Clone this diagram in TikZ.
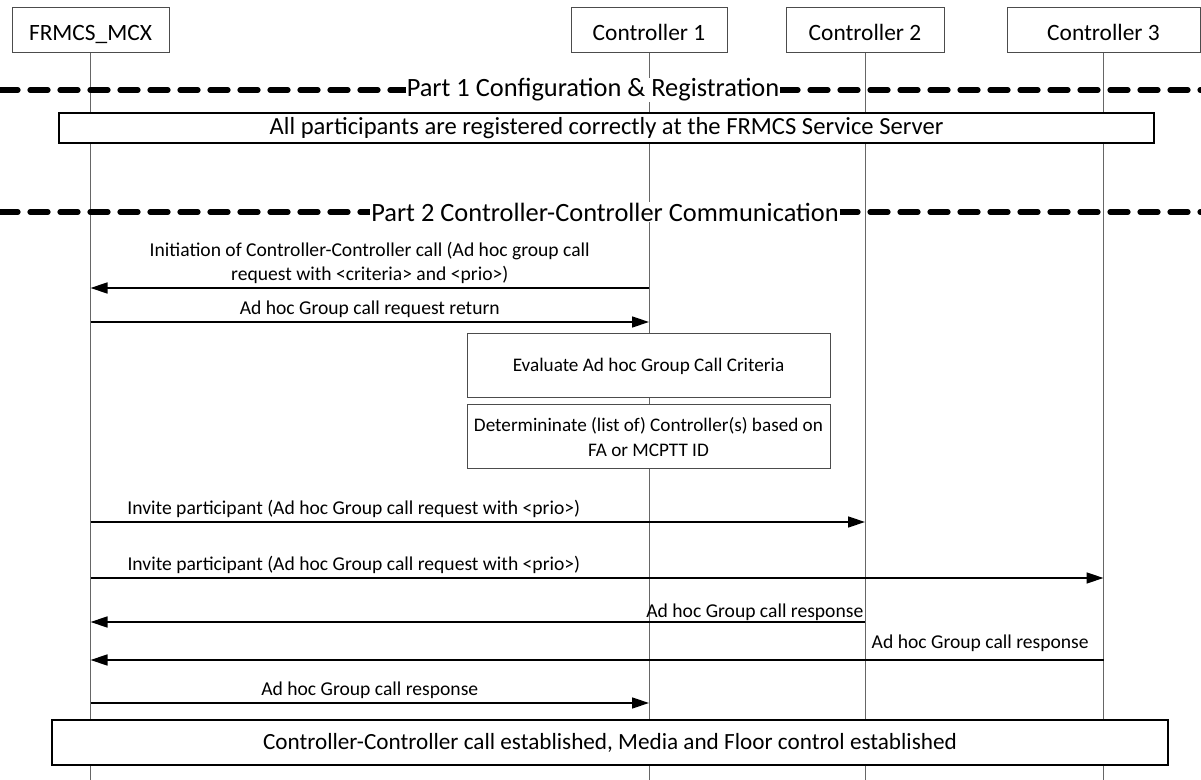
\documentclass[tikz,border=0pt]{standalone}
\usepackage{fontspec}
\setmainfont{Carlito}
\usetikzlibrary{arrows.meta,positioning}

\begin{document}
\begin{tikzpicture}[
  x=0.5pt, y=-0.5pt,
  actor/.style={draw=black!70, line width=0.5pt, font=\fontsize{11.7}{13}\selectfont,
                minimum height=22.5pt, inner sep=0pt, text height=2ex, text depth=0pt},
  lifeline/.style={draw=black!60, line width=0.5pt},
  phase/.style={line width=2.6pt, dash pattern=on 9pt off 6pt, line cap=round},
  phasetext/.style={fill=white, inner sep=0.5pt, font=\fontsize{13.2}{15}\selectfont},
  note/.style={draw, line width=1.1pt, fill=white, inner sep=0pt},
  step box/.style={draw=black!70, line width=0.5pt, fill=white, align=center,
               font=\fontsize{9.6}{12.5}\selectfont, minimum width=181.5pt,
               minimum height=32pt, inner sep=2pt},
  msg/.style={-{Triangle[length=8.5pt, width=5.5pt]}, line width=0.7pt},
  lbl/.style={font=\fontsize{9.8}{12}\selectfont, align=center, inner sep=2pt}]
  \useasboundingbox (0,0) rectangle (1201,780);
  \coordinate (bot) at (0,780);
  % participants
  \node[actor, minimum width=78.5pt] (mcx) at (90.5,30.5) {FRMCS\_MCX};
  \node[actor, minimum width=78pt] (c1) at (649,30.5) {Controller 1};
  \node[actor, minimum width=79pt] (c2) at (865,30.5) {Controller 2};
  \node[actor, minimum width=96.5pt] (c3) at (1103.5,30.5) {Controller 3};
  \foreach \p in {mcx,c1,c2,c3}
    \draw[lifeline] (\p.south) -- (\p |- bot);
  % part 1
  \draw[phase] (0,90) -- (1201,90);
  \node[phasetext] (part1) at (593,90) {Part 1 Configuration \& Registration};
  \node[note, minimum width=547.5pt, minimum height=15pt, font=\fontsize{12.3}{14}\selectfont]
    (reg) at (606.5,128)
    {All participants are registered correctly at the FRMCS Service Server};
  % part 2
  \draw[phase] (0,212) -- (1201,212);
  \node[phasetext] (part2) at (605,212) {Part 2 Controller-Controller Communication};
  % messages
  \draw[msg] (c1 |- 0,288) -- (mcx |- 0,288)
    node[lbl, midway, above] {Initiation of Controller-Controller call (Ad hoc group call\\ request with <criteria> and <prio>)};
  \draw[msg] (mcx |- 0,322) -- (c1 |- 0,322)
    node[lbl, midway, above] {Ad hoc Group call request return};
  \node[step box] (eval) at (648.5,366) {Evaluate Ad hoc Group Call Criteria};
  \node[step box, below=3pt of eval] (det) {Determininate (list of) Controller(s) based on\\ FA or MCPTT ID};
  \draw[msg] (mcx |- 0,522) -- (c2 |- 0,522)
    node[lbl, pos=0.34, above] {Invite participant (Ad hoc Group call request with <prio>)};
  \draw[msg] (mcx |- 0,578) -- (c3 |- 0,578)
    node[lbl, pos=0.26, above] {Invite participant (Ad hoc Group call request with <prio>)};
  \draw[msg] (c2 |- 0,622) -- (mcx |- 0,622)
    node[lbl, pos=0, anchor=south east, inner sep=0.5pt] {Ad hoc Group call response};
  \draw[msg] (c3 |- 0,660) -- (mcx |- 0,660)
    node[lbl, pos=0.01, anchor=south east, yshift=2pt] {Ad hoc Group call response};
  \draw[msg] (mcx |- 0,703) -- (c1 |- 0,703)
    node[lbl, midway, above] {Ad hoc Group call response};
  \node[note, minimum width=558pt, minimum height=22.5pt, font=\fontsize{11.6}{13}\selectfont]
    (done) at (610,742.5)
    {Controller-Controller call established, Media and Floor control established};
\end{tikzpicture}
\end{document}
